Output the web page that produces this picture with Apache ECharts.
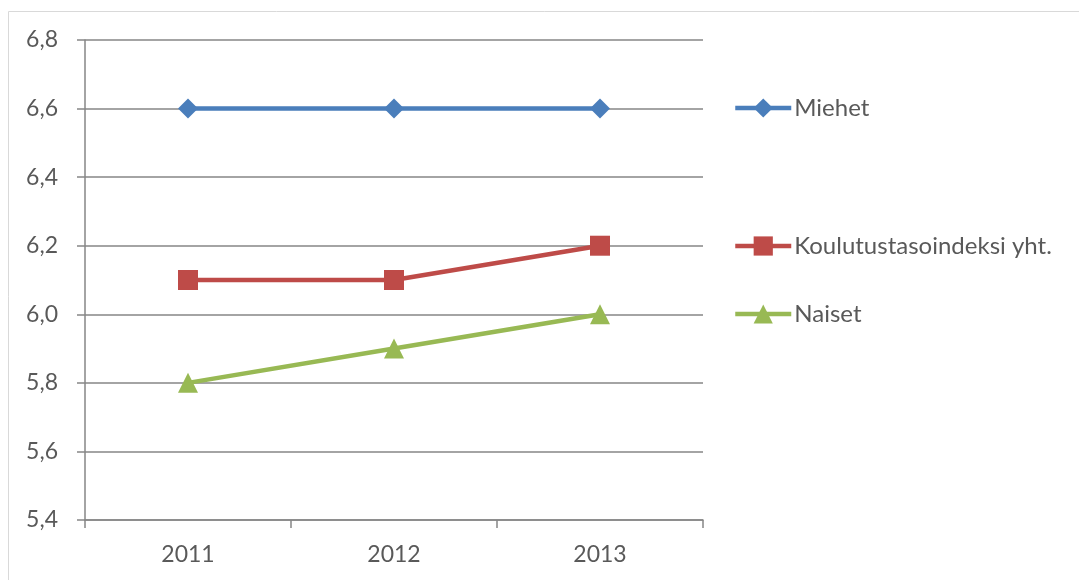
<!DOCTYPE html>
<html>
<head>
<meta charset="utf-8">
<script src="https://cdn.jsdelivr.net/npm/echarts@6/dist/echarts.min.js"></script>
<style>
  html, body { margin: 0; padding: 0; background: #fff; }
  #chart { width: 1079px; height: 580px; }
</style>
</head>
<body>
<div id="chart"></div>
<script>
const years = ['2011', '2012', '2013']
const miehet = [6.6, 6.6, 6.6]
const yhteensa = [6.1, 6.1, 6.2]
const naiset = [5.8, 5.9, 6.0]

const names = ['Miehet', 'Koulutustasoindeksi yht.', 'Naiset']
const colors = ['#4A7EBB', '#BE4B48', '#98B954']
const legendTops = [91, 229, 297]

const chart = echarts.init(document.getElementById('chart'))
const fontFamily = 'Lato, "Open Sans", sans-serif'
const textColor = '#595959'

chart.setOption({
  animation: false,
  textStyle: { fontFamily: fontFamily },
  graphic: [{
    type: 'rect',
    shape: { x: 8.5, y: 11.5, width: 1200, height: 700 },
    style: { fill: null, stroke: '#d9d9d9', lineWidth: 1 },
    silent: true
  }],
  grid: { left: 85, right: 376, top: 40, bottom: 60, containLabel: false },
  legend: names.map((n, i) => ({
    data: [n],
    left: 728,
    top: legendTops[i],
    itemWidth: 56,
    itemHeight: 24,
    itemGap: 0,
    lineStyle: { width: 4.5 },
    textStyle: { fontSize: 24, color: textColor, fontFamily: fontFamily, padding: [0, 0, 0, -2] }
  })),
  xAxis: {
    type: 'category',
    data: years,
    boundaryGap: true,
    axisLine: { lineStyle: { color: '#868686', width: 1.5 } },
    axisTick: { show: true, length: 8, lineStyle: { color: '#868686', width: 1.5 } },
    axisLabel: { fontSize: 23, color: textColor, margin: 23 }
  },
  yAxis: {
    type: 'value',
    min: 5.4,
    max: 6.8,
    interval: 0.2,
    axisLine: { show: true, lineStyle: { color: '#868686', width: 1.5 } },
    axisTick: { show: true, length: 8, lineStyle: { color: '#868686', width: 1.5 } },
    splitLine: { lineStyle: { color: '#868686', width: 1.5 } },
    axisLabel: {
      fontSize: 23,
      color: textColor,
      margin: 27,
      formatter: v => v.toFixed(1).replace('.', ',')
    }
  },
  series: [
    {
      name: names[0], type: 'line', data: miehet,
      symbol: 'diamond', symbolSize: 20,
      lineStyle: { width: 4.5, color: colors[0] },
      itemStyle: { color: colors[0] }
    },
    {
      name: names[1], type: 'line', data: yhteensa,
      symbol: 'rect', symbolSize: 20,
      lineStyle: { width: 4.5, color: colors[1] },
      itemStyle: { color: colors[1] }
    },
    {
      name: names[2], type: 'line', data: naiset,
      symbol: 'triangle', symbolSize: 20,
      lineStyle: { width: 4.5, color: colors[2] },
      itemStyle: { color: colors[2] }
    }
  ]
})
</script>
</body>
</html>
